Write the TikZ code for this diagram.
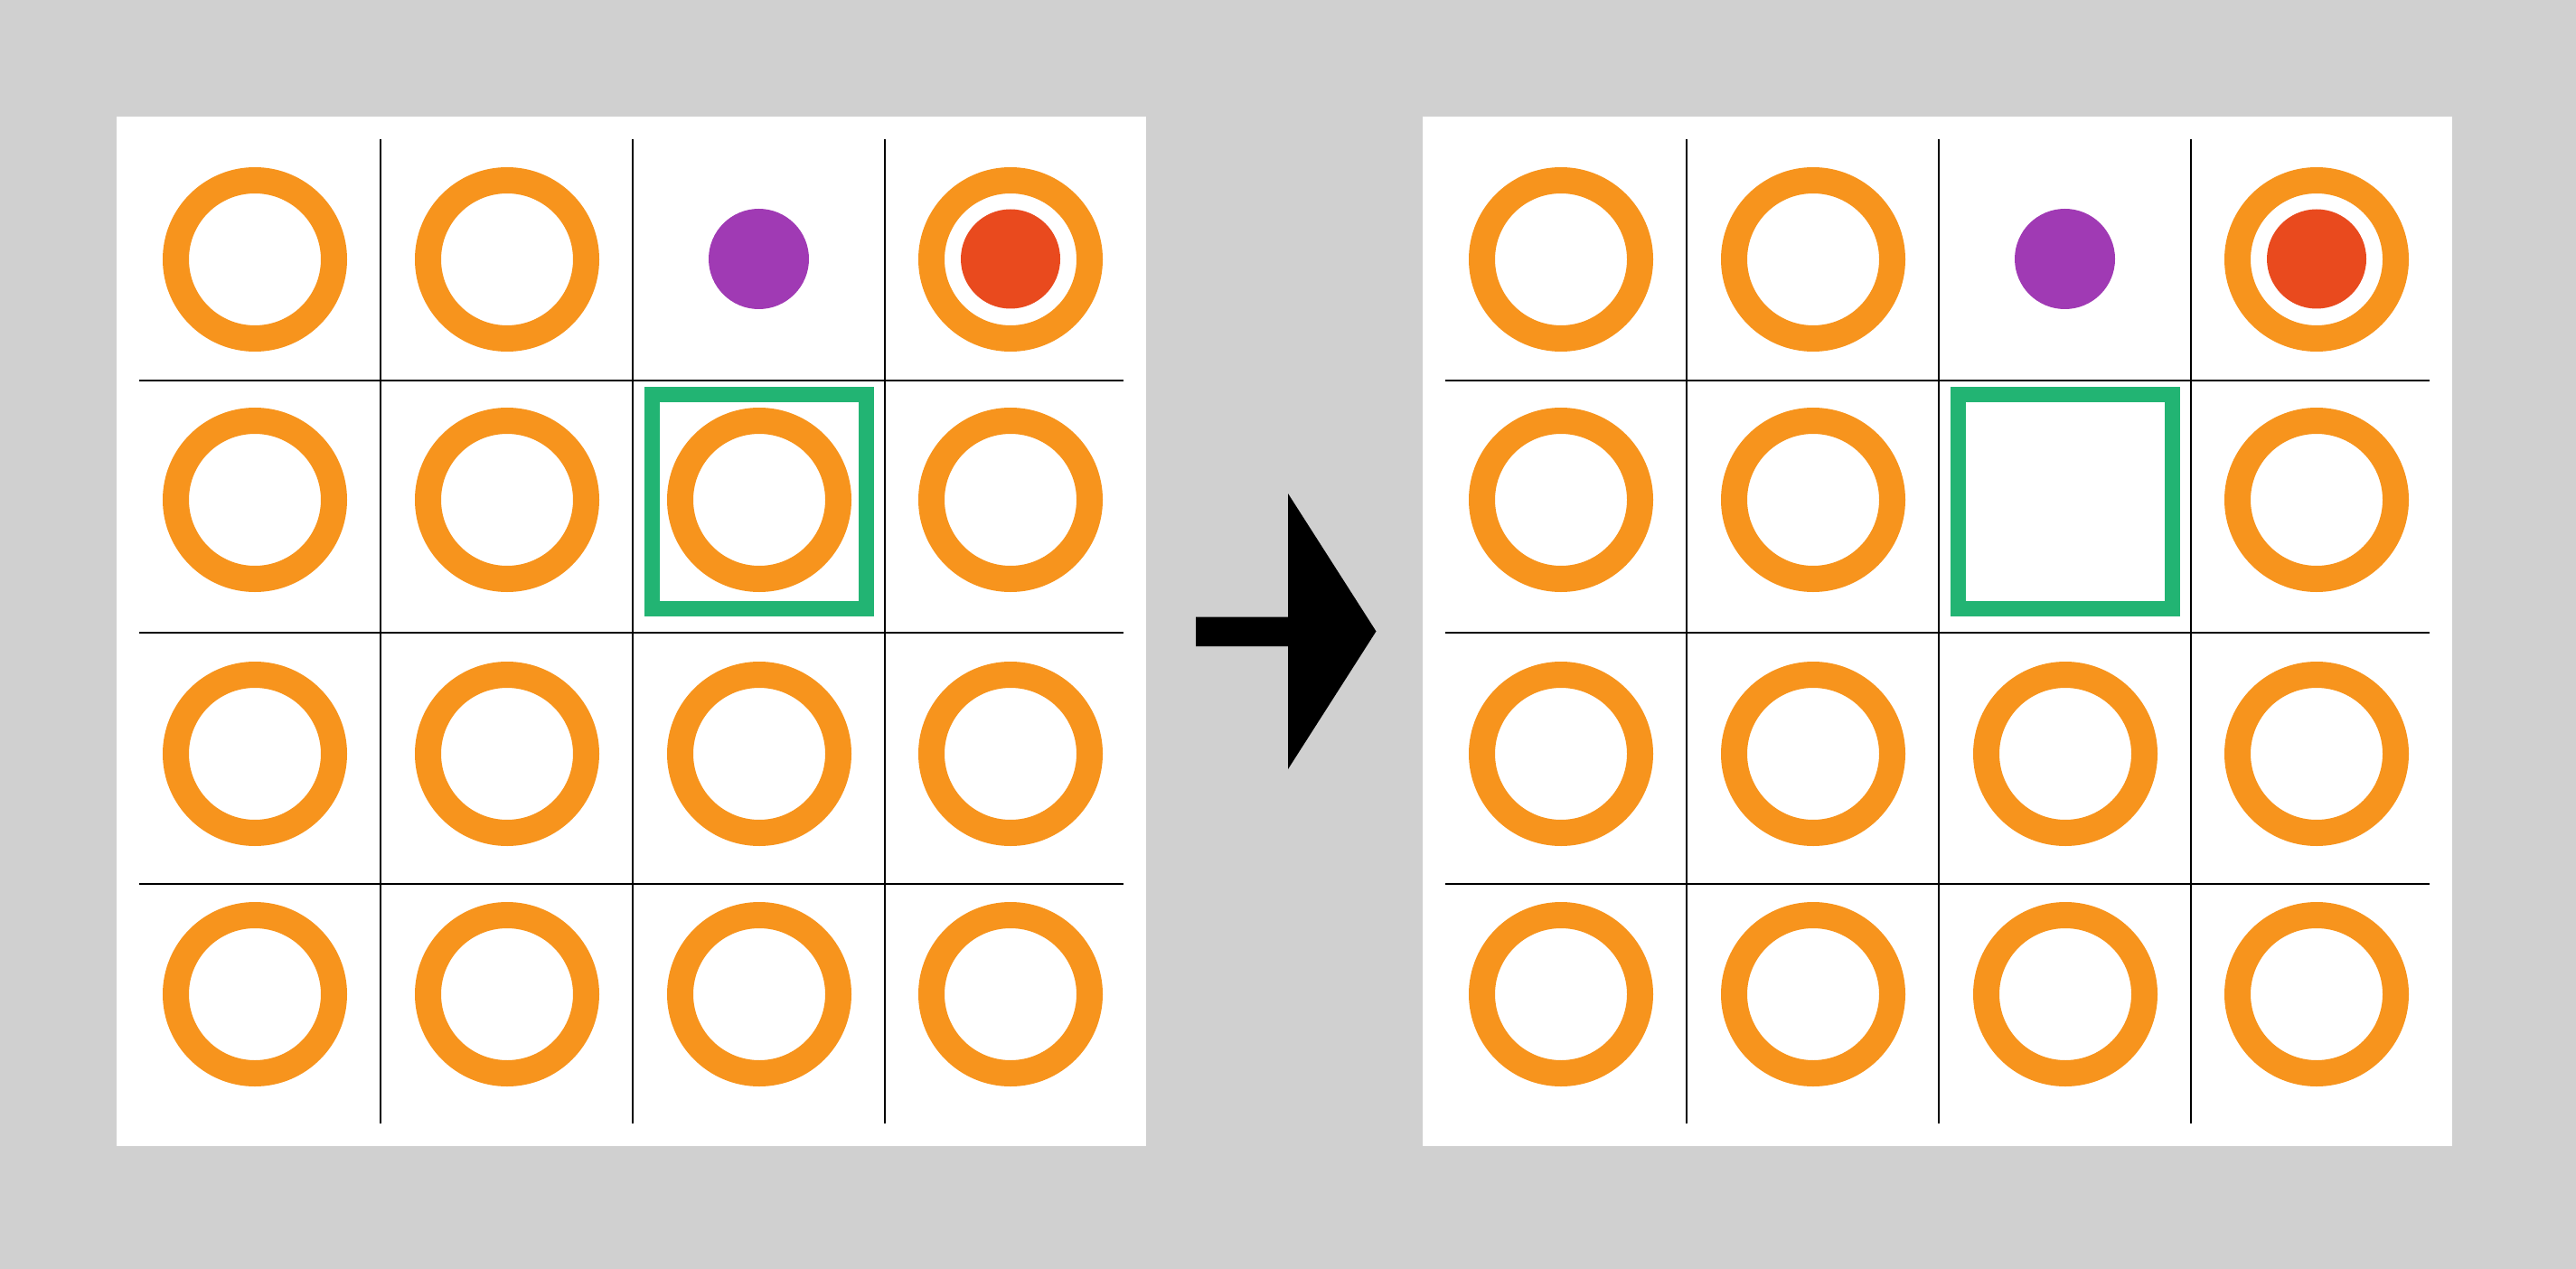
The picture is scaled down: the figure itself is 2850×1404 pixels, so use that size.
\documentclass[tikz,border=0pt]{standalone}
\definecolor{bggray}{HTML}{D0D0D0}
\definecolor{ringorange}{HTML}{F7941D}
\definecolor{dotred}{HTML}{E94A1E}
\definecolor{dotpurple}{HTML}{A03AB4}
\definecolor{selgreen}{HTML}{22B473}
\tikzset{
  panel/.style={fill=white,draw=none},
  gridline/.style={draw=black,line width=2.6pt},
  ring/.style={circle,draw=ringorange,line width=29pt,minimum size=175pt,inner sep=0pt,outer sep=0pt},
  reddot/.style={circle,fill=dotred,minimum size=110pt,inner sep=0pt,outer sep=0pt},
  purpledot/.style={circle,fill=dotpurple,minimum size=111pt,inner sep=0pt,outer sep=0pt},
  selbox/.style={rectangle,draw=selgreen,line width=17pt,minimum size=237pt,inner sep=0pt,outer sep=0pt},
  bigarrow/.style={fill=black,draw=none}
}
\begin{document}
\begin{tikzpicture}[x=1pt,y=-1pt]
\fill[bggray] (0,0) rectangle (2850,1404);
\useasboundingbox (0,0) rectangle (2850,1404);
\foreach \ox/\pn in {0/L,1445/R}{
  \fill[panel] (129+\ox,129) rectangle (1268+\ox,1268);
  \foreach \gx in {421,700,979}
    \draw[gridline] (\gx+\ox,154) -- (\gx+\ox,1243);
  \foreach \gy in {421,700,978}
    \draw[gridline] (154+\ox,\gy) -- (1243+\ox,\gy);
  \foreach \r/\cy in {1/287,2/553,3/834,4/1100}{
    \foreach \c/\cx in {1/282,2/561,3/840,4/1118}{
      \pgfmathtruncatemacro{\skipit}{(\r==1 && \c==3) ? 1 : 0}
      \ifnum\skipit=0
        \ifnum\r=2 \ifnum\c=3 \ifnum\ox>0 \def\skipit{1}\fi\fi\fi
      \fi
      \ifnum\skipit=0
        \node[ring] (\pn-\r-\c) at (\cx+\ox,\cy) {};
      \fi
    }
  }
  \node[purpledot] (\pn-purple) at (839.5+\ox,286.5) {};
  \node[reddot] (\pn-red) at (1118+\ox,286.5) {};
  \node[selbox] (\pn-sel) at (840+\ox,555) {};
}
\coordinate (tailtop) at (1323,682.5);
\coordinate (tailbot) at (1323,715);
\coordinate (neckbot) at (1425,715);
\coordinate (headbot) at (1425,851);
\coordinate (tip) at (1522.5,698.5);
\coordinate (headtop) at (1425,546);
\coordinate (necktop) at (1425,682.5);
\fill[bigarrow] (tailtop) -- (tailbot) -- (neckbot) -- (headbot) -- (tip) -- (headtop) -- (necktop) -- cycle;
\end{tikzpicture}
\end{document}
